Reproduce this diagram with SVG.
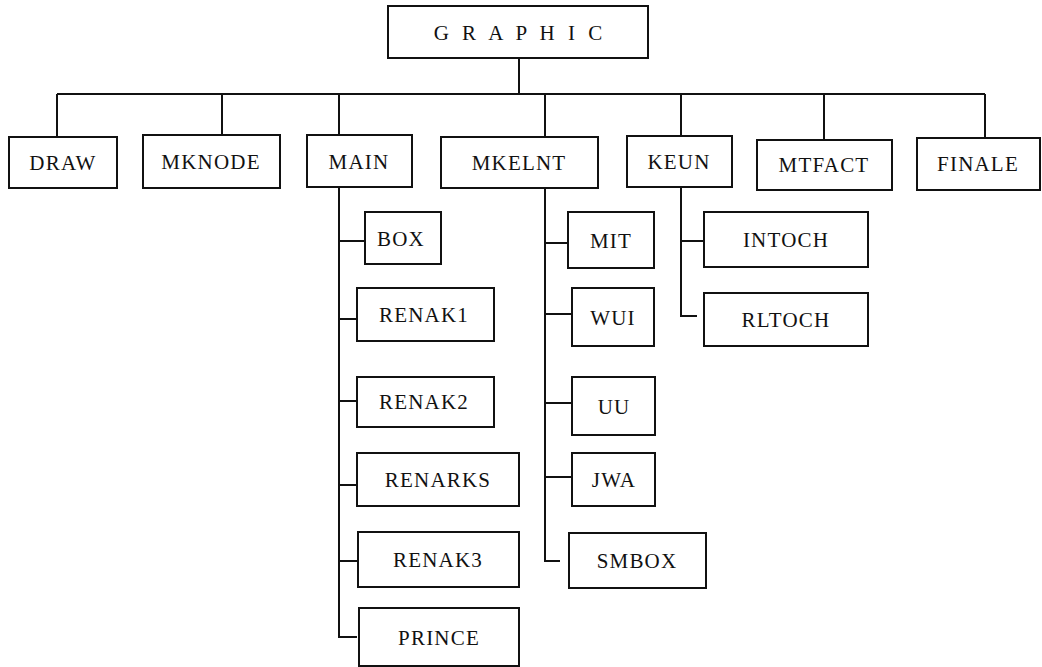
<svg xmlns="http://www.w3.org/2000/svg" width="1042" height="667" viewBox="0 0 1042 667">
<style>
.n{fill:#fff;stroke:#111;stroke-width:2}
text{font-family:"Liberation Serif","Times New Roman",serif;font-size:21px;fill:#111;text-anchor:middle;letter-spacing:1.2px}
.c{fill:none;stroke:#111;stroke-width:2}
.t{letter-spacing:4px;font-size:21px}
</style>
<rect width="1042" height="667" fill="#fff"/>
<g id="connectors">
<path class="c" d="M519 58V94M57 94H985M57 94V137M222 94V135M339 94V135M545 94V137M681 94V136M824 94V140M985 94V138"/>
<path class="c" d="M339 187V637H357M339 241H365M339 319H357M339 401H357M339 485H357M339 561H358"/>
<path class="c" d="M545 188V561H560M545 243H568M545 314H572M545 403H572M545 477H572"/>
<path class="c" d="M681 187V316H697M681 241H704"/>
</g>
<g id="graphic"><rect class="n" x="388" y="6" width="260" height="52"/><text class="t" x="520" y="40">G R A P H I C</text></g>
<g id="draw"><rect class="n" x="9" y="137" width="108" height="51"/><text x="63" y="170">DRAW</text></g>
<g id="mknode"><rect class="n" x="143" y="135" width="137" height="53"/><text x="211" y="169">MKNODE</text></g>
<g id="main"><rect class="n" x="307" y="135" width="105" height="52"/><text x="359" y="169">MAIN</text></g>
<g id="mkelnt"><rect class="n" x="441" y="137" width="157" height="51"/><text x="519" y="170">MKELNT</text></g>
<g id="keun"><rect class="n" x="627" y="136" width="105" height="51"/><text x="679" y="169">KEUN</text></g>
<g id="mtfact"><rect class="n" x="757" y="140" width="135" height="50"/><text x="824" y="172">MTFACT</text></g>
<g id="finale"><rect class="n" x="917" y="138" width="123" height="52"/><text x="978" y="171">FINALE</text></g>
<g id="box"><rect class="n" x="365" y="212" width="76" height="52"/><text x="401" y="246">BOX</text></g>
<g id="renak1"><rect class="n" x="357" y="288" width="137" height="53"/><text x="424" y="322">RENAK1</text></g>
<g id="renak2"><rect class="n" x="357" y="377" width="137" height="50"/><text x="424" y="409">RENAK2</text></g>
<g id="renarks"><rect class="n" x="357" y="453" width="162" height="53"/><text x="438" y="487">RENARKS</text></g>
<g id="renak3"><rect class="n" x="358" y="532" width="161" height="55"/><text x="438" y="567">RENAK3</text></g>
<g id="prince"><rect class="n" x="359" y="608" width="160" height="58"/><text x="439" y="645">PRINCE</text></g>
<g id="mit"><rect class="n" x="568" y="212" width="86" height="56"/><text x="611" y="248">MIT</text></g>
<g id="wui"><rect class="n" x="572" y="288" width="82" height="58"/><text x="613" y="325">WUI</text></g>
<g id="uu"><rect class="n" x="572" y="377" width="83" height="58"/><text x="614" y="414">UU</text></g>
<g id="jwa"><rect class="n" x="572" y="453" width="83" height="53"/><text x="614" y="487">JWA</text></g>
<g id="smbox"><rect class="n" x="569" y="533" width="137" height="55"/><text x="637" y="568">SMBOX</text></g>
<g id="intoch"><rect class="n" x="704" y="212" width="164" height="55"/><text x="786" y="247">INTOCH</text></g>
<g id="rltoch"><rect class="n" x="704" y="293" width="164" height="53"/><text x="786" y="327">RLTOCH</text></g>
</svg>
